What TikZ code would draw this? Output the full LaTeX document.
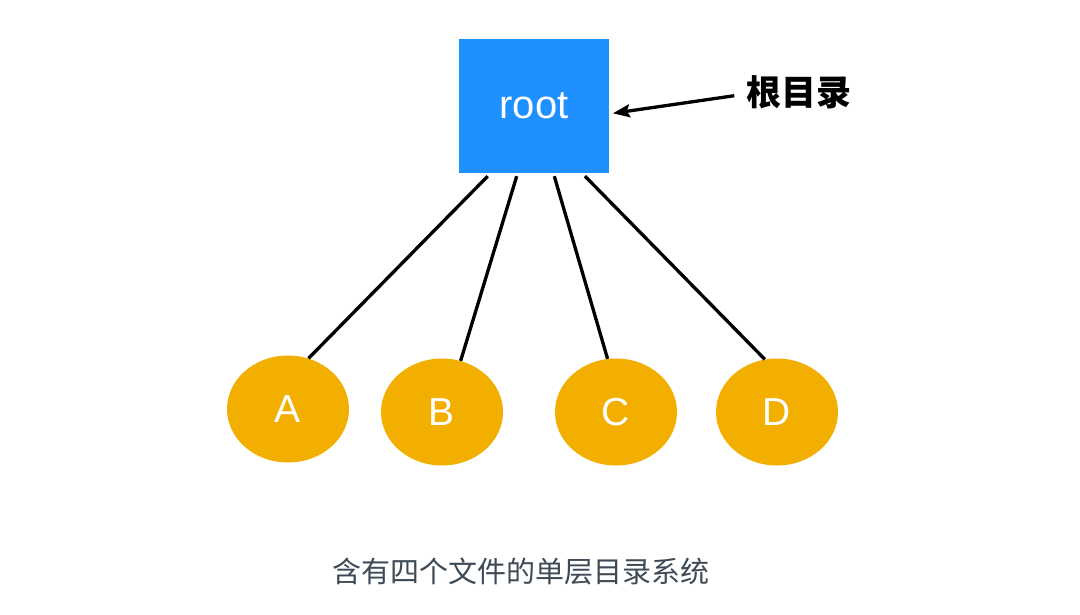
\documentclass[tikz,border=0pt]{standalone}
\usepackage{fontspec}
\setmainfont{Liberation Sans}
\newfontfamily\cjk{Noto Sans CJK SC}
\usetikzlibrary{shapes.geometric,arrows.meta}
\definecolor{rootblue}{HTML}{1E90FF}
\definecolor{leaforange}{HTML}{F3AF00}
\definecolor{captiongray}{HTML}{3E4A56}
\tikzset{
  rootbox/.style={fill=rootblue, draw=none, minimum width=150pt, minimum height=134pt, inner sep=0pt, text=white, font=\fontsize{40}{46}\selectfont},
  leaf/.style={ellipse, fill=leaforange, draw=none, minimum width=122pt, minimum height=107pt, inner sep=0pt, text=white, font=\fontsize{39}{44}\selectfont},
  edge/.style={line width=3.3pt, draw=black},
  pointer/.style={line width=3.3pt, -{Stealth[length=17pt,width=13pt,inset=3pt]}},
}
\begin{document}
\begin{tikzpicture}[x=1pt,y=-1pt]
\useasboundingbox[fill=white] (0,0) rectangle (1080,614);
\node[rootbox] (root) at (534,106) {root};
\node[inner sep=0pt, font=\cjk\bfseries\fontsize{35}{40}\selectfont] (lbl) at (799,92) {根目录};
\node[leaf] (A) at (288,409) {A};
\node[leaf] (B) at (442,412) {B};
\node[leaf] (C) at (616,412) {C};
\node[leaf] (D) at (777,412) {D};
\node[inner sep=0pt, text=captiongray, font=\cjk\fontsize{29}{34}\selectfont] (cap) at (521,572) {含有四个文件的单层目录系统};
\draw[edge] ([xshift=-46.3pt,yshift=-3pt]root.south) -- (A.68);
\draw[edge] ([xshift=-17.3pt,yshift=-3pt]root.south) -- (B.70);
\draw[edge] ([xshift=20.3pt,yshift=-3pt]root.south) -- (C.99);
\draw[edge] ([xshift=51pt,yshift=-3pt]root.south) -- (D.103);
\draw[pointer] ([xshift=-12pt,yshift=-3.7pt]lbl.west) -- ([xshift=3.7pt,yshift=-7.3pt]root.east);
\end{tikzpicture}
\end{document}
